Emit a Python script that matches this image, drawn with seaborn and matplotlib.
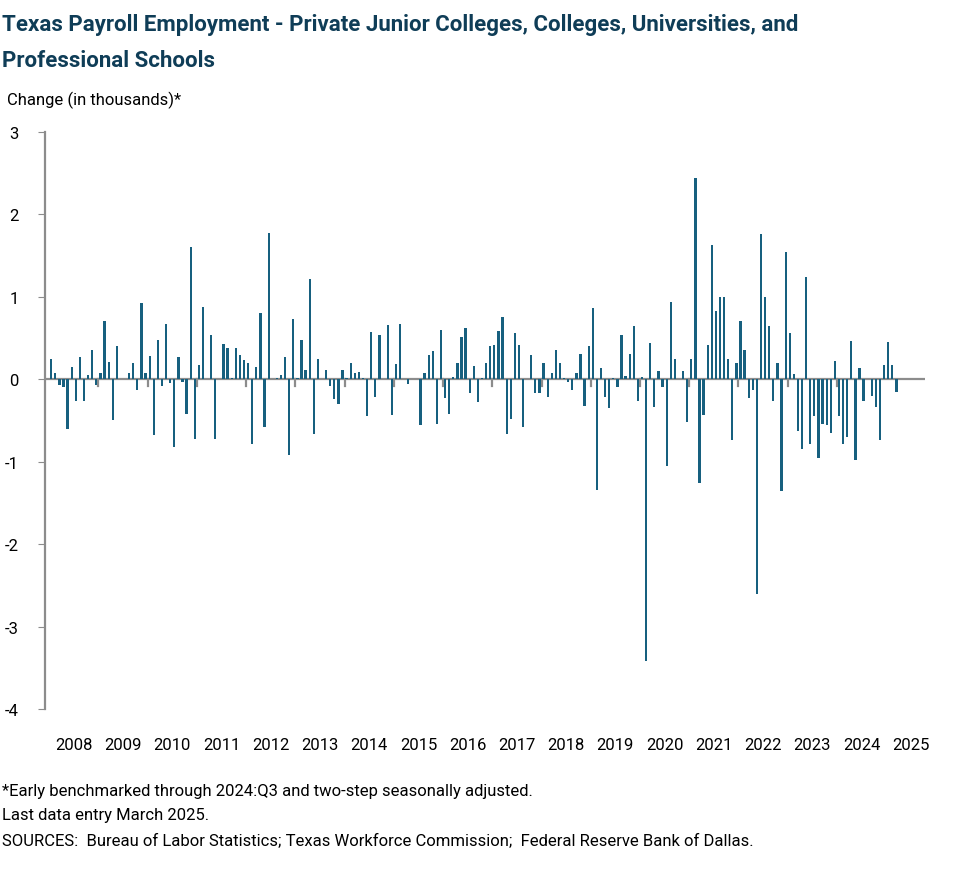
import numpy as np
import pandas as pd
import matplotlib
matplotlib.use("Agg")
import matplotlib.pyplot as plt
import seaborn as sns

# Monthly change, Jan 2008 - Mar 2025 (thousands)
VALS_2008_10 = [0.24, 0.07, -0.07, -0.1, -0.6, 0.15, -0.27, 0.27, -0.26, 0.05, 0.35,
                -0.07, 0.07, 0.7, 0.21, -0.5, 0.4, 0, 0, 0.08, 0.2, -0.13, 0.92,
                0.07, 0.28, -0.68, 0.48, -0.08, 0.67, -0.05, -0.82, 0.27, -0.04, -0.42]
VALS_2010_13 = [1.6, -0.72, 0.17, 0.87, 0, 0.54, -0.73, 0, 0.43, 0.38, 0.01, 0.38, 0.29,
                0.23, 0.19, -0.78, 0.15, 0.8, -0.58, 1.77, 0, 0.01, 0.05, 0.27, -0.92,
                0.73, 0.01, 0.47, 0.11, 1.21, -0.67, 0.25, 0, 0.11, -0.08]
VALS_2013_16 = [-0.24, -0.3, 0.11, 0.01, 0.2, 0.07, 0.09, 0.01, -0.45, 0.57, -0.22, 0.53,
                0, 0.66, -0.43, 0.18, 0.67, 0, -0.06, 0, 0, -0.56, 0.08, 0.29, 0.34, -0.54,
                0.6, -0.23, -0.42, 0.03, 0.19, 0.51, 0.62, -0.17, 0.16, -0.28]
VALS_2016_19 = [0.01, 0.2, 0.4, 0.41, 0.58, 0.75, -0.66, -0.48, 0.56, 0.42, -0.58, 0, 0.29,
                -0.17, -0.17, 0.19, -0.22, 0.07, 0.35, 0.19, 0.02, -0.04, -0.13, 0.08, 0.3,
                -0.33, 0.4, 0.86, -1.34, 0.13, -0.22, -0.35, 0.01, -0.1, 0.54]
VALS_2019_22 = [0.04, 0.3, 0.65, -0.27, 0.03, -3.42, 0.44, -0.34, 0.1, -0.1, -1.05, 0.93,
                0.24, 0, 0.1, -0.52, 0.24, 2.44, -1.26, -0.43, 0.41, 1.63, 0.82, 1.0, 1.0,
                0.25, -0.74, 0.2, 0.71, 0.35, -0.23, -0.13, -2.6, 1.76, 1.0, 0.65, -0.27]
VALS_2022_25 = [0.19, -1.35, 1.54, 0.56, 0.06, -0.63, -0.85, 1.24, -0.79, -0.45, -0.96,
                -0.54, -0.55, -0.65, 0.22, -0.45, -0.79, -0.7, 0.46, -0.98, 0.13, -0.26, 0,
                -0.2, -0.34, -0.74, 0.17, 0.45, 0.17, -0.16]

values = VALS_2008_10 + VALS_2010_13 + VALS_2013_16 + VALS_2016_19 + VALS_2019_22 + VALS_2022_25
YEARS = list(range(2008, 2026))
Y_TICKS = [-4, -3, -2, -1, 0, 1, 2, 3]

df = pd.DataFrame({"idx": np.arange(len(values)), "val": values})

BAR = "#17607f"
GRAY = "#8c8c8c"
plt.rcParams["font.family"] = "Roboto"

fig = plt.figure(figsize=(9.79, 8.78), dpi=100)
ax = fig.add_axes([0.046, 0.191, 0.899, 0.658])

sns.barplot(data=df, x="idx", y="val", native_scale=True, color=BAR,
            width=0.55, saturation=1, ax=ax, errorbar=None)

ax.set_xlim(-1.5, len(values) + 6)
ax.set_ylim(-4, 3)
ax.axhline(0, color=GRAY, lw=1.6, zorder=0)
for y in YEARS[1:-1]:
    xb = (y - 2008) * 12 - 0.5
    ax.plot([xb, xb], [0, -0.08], color=GRAY, lw=1.6, zorder=0)

ax.set_xticks([(y - 2008) * 12 + 5.5 for y in YEARS])
ax.set_xticklabels([str(y) for y in YEARS], fontsize=12)
ax.tick_params(axis="x", length=0, pad=20)
ax.set_yticks(Y_TICKS)
ax.set_yticklabels([str(t) for t in Y_TICKS], fontsize=12)
ax.tick_params(axis="y", length=5, color=GRAY, pad=14)
for s in ["top", "right", "bottom"]:
    ax.spines[s].set_visible(False)
ax.spines["left"].set_color(GRAY)
ax.spines["left"].set_linewidth(1.6)
ax.set_xlabel("")
ax.set_ylabel("")

fig.text(0.002, 0.972, "Texas Payroll Employment - Private Junior Colleges, Colleges, Universities, and",
         fontsize=16, fontweight="bold", color="#0f3d57", va="center")
fig.text(0.002, 0.930, "Professional Schools",
         fontsize=16, fontweight="bold", color="#0f3d57", va="center")
fig.text(0.007, 0.886, "Change (in thousands)*", fontsize=12, va="center")
fig.text(0.002, 0.098, "*Early benchmarked through 2024:Q3 and two-step seasonally adjusted.",
         fontsize=12, va="center")
fig.text(0.002, 0.071, "Last data entry March 2025.", fontsize=12, va="center")
fig.text(0.002, 0.043, "SOURCES:  Bureau of Labor Statistics; Texas Workforce Commission;  Federal Reserve Bank of Dallas.",
         fontsize=12, va="center")

fig.savefig("out.png", dpi=100)
